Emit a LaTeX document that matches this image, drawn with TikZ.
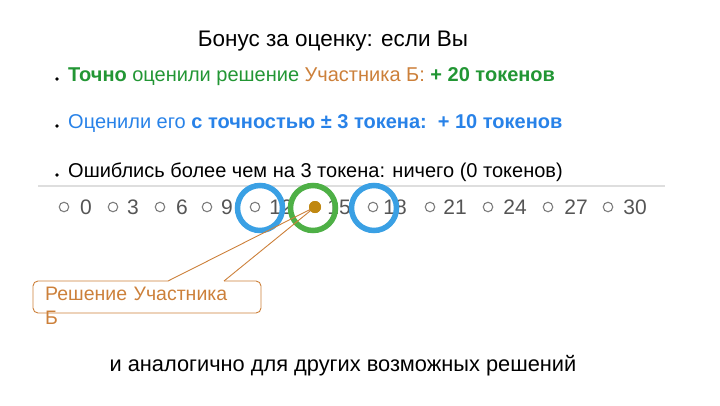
\documentclass[tikz,border=0pt]{standalone}
\usepackage{fontspec}
\setmainfont{Liberation Sans}
\usetikzlibrary{positioning}

\definecolor{okgreen}{RGB}{34,150,52}
\definecolor{partorange}{RGB}{204,128,58}
\definecolor{nearblue}{RGB}{40,130,232}
\definecolor{ringblue}{RGB}{58,160,228}
\definecolor{ringgreen}{RGB}{78,176,70}
\definecolor{dotbrown}{RGB}{192,136,18}
\definecolor{markgray}{RGB}{125,125,125}
\definecolor{numgray}{RGB}{85,85,85}
\definecolor{rulegray}{RGB}{222,222,222}

\tikzset{
  mark circle/.style={circle, draw=markgray, line width=1.1pt, inner sep=0pt, minimum size=9.5pt},
  mark num/.style={text=numgray, font=\fontsize{21}{23}\selectfont},
  ring/.style={circle, line width=5.5pt, inner sep=0pt, minimum size=45pt},
  bullet dot/.style={circle, fill=black, inner sep=0pt, minimum size=3.8pt},
  bullet text/.style={anchor=base west, font=\fontsize{20}{22}\selectfont, inner sep=0pt},
}

\begin{document}
\begin{tikzpicture}[x=1pt, y=-1pt]
%\draw [help lines] (0,0) grid (720,405);
\useasboundingbox (0,0) rectangle (720,405);

\node [font=\fontsize{22.5}{25}\selectfont, anchor=base] (title) at (333,46) {Бонус за оценку: если Вы};

\node [bullet dot] (b1) at (57,79) {};
\node [bullet dot] (b2) at (57,126) {};
\node [bullet dot] (b3) at (57,175) {};

\node [bullet text] (line1) at (68,81) {\textcolor{okgreen}{\bfseries Точно} \textcolor{okgreen}{оценили решение} \textcolor{partorange}{Участника Б:} \textcolor{okgreen}{\bfseries + 20 токенов}};
\node [bullet text, text=nearblue] (line2) at (68,128) {Оценили его {\bfseries с точностью ± 3 токена:\ \ + 10 токенов}};
\node [bullet text] (line3) at (68,177) {Ошиблись более чем на 3 токена: ничего (0 токенов)};

\draw [rulegray, line width=1.5pt] (38,186) -- (665,186);

\node [mark circle] (m0) at (64,207) {};
\node [mark circle] (m3) at (113,207) {};
\node [mark circle] (m6) at (160,207) {};
\node [mark circle] (m9) at (207,207) {};
\node [mark circle] (m12) at (255,207) {};
\node [mark circle] (m18) at (373,207) {};
\node [mark circle] (m21) at (430,207) {};
\node [mark circle] (m24) at (488,207) {};
\node [mark circle] (m27) at (548,207) {};
\node [mark circle] (m30) at (608,207) {};

\node [mark num] (n0) at (86,207) {0};
\node [mark num] (n3) at (133,207) {3};
\node [mark num] (n6) at (182,207) {6};
\node [mark num] (n9) at (227,207) {9};
\node [mark num] (n12) at (281,207) {12};
\node [mark num] (n15) at (339,207) {15};
\node [mark num] (n18) at (395,207) {18};
\node [mark num] (n21) at (455,207) {21};
\node [mark num] (n24) at (515,207) {24};
\node [mark num] (n27) at (576,207) {27};
\node [mark num] (n30) at (635,207) {30};

\node [ring, draw=ringblue] (low) at (260,208) {};
\node [ring, draw=ringgreen] (exact) at (313,208) {};
\node [ring, draw=ringblue] (high) at (374,208) {};

% callout
\coordinate (cl) at (168,281);
\coordinate (cr) at (224,281);
\node [circle, fill=dotbrown, inner sep=0pt, minimum size=12pt] (answer) at (315,207) {};
\draw [partorange, line width=0.9pt, rounded corners=5pt]
  (cr) -- (261,281) -- (261,313) -- (33,313) -- (33,281) -- (cl);
\draw [partorange, line width=0.9pt] (cl) -- (answer.center) -- (cr);
\node [circle, fill=dotbrown, inner sep=0pt, minimum size=12pt] at (answer) {};

\node [anchor=north west, text=partorange, font=\fontsize{19.5}{24}\selectfont, text width=200pt, align=left, inner sep=0pt] (label) at (45,287) {Решение Участника Б};

\node [font=\fontsize{21.8}{24}\selectfont, anchor=base] (note) at (343,371) {и аналогично для других возможных решений};

\end{tikzpicture}
\end{document}
